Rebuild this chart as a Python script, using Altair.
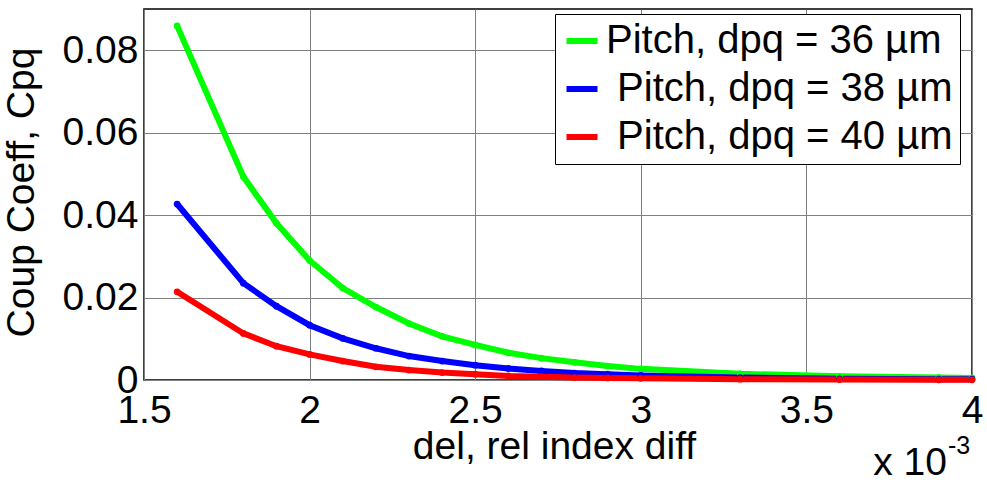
import altair as alt
import pandas as pd

# ---- data (x in units of 1e-3) ----
x_vals = [1.6, 1.8, 1.9, 2.0, 2.1, 2.2, 2.3, 2.4, 2.5, 2.6, 2.7, 2.8, 2.9, 3.0, 3.3, 3.6, 3.9, 4.0]
green_vals = [0.0859, 0.0493, 0.0380, 0.0290, 0.0223, 0.0177, 0.0137, 0.0106, 0.0085, 0.0066,
              0.0053, 0.0043, 0.0034, 0.0027, 0.0015, 0.0009, 0.0006, 0.0005]
blue_vals = [0.0427, 0.0235, 0.0179, 0.0133, 0.0101, 0.0077, 0.0058, 0.0046, 0.0036, 0.0028,
             0.0022, 0.0017, 0.0014, 0.0011, 0.0006, 0.0003, 0.0002, 0.0002]
red_vals = [0.0214, 0.0113, 0.0082, 0.0062, 0.0046, 0.0032, 0.0024, 0.0018, 0.0014, 0.0010,
            0.0008, 0.0006, 0.0005, 0.0004, 0.0002, 0.0001, 0.00005, 0.00004]
series_names = ["Pitch, dpq = 36 \u00b5m",
                "\u200b\u00a0Pitch, dpq = 38 \u00b5m",
                "\u200b\u00a0Pitch, dpq = 40 \u00b5m"]
series_colors = ["#00ff00", "#0000ff", "#ff0000"]
x_ticks = [1.5, 2.0, 2.5, 3.0, 3.5, 4.0]
y_ticks = [0, 0.02, 0.04, 0.06, 0.08]
x_title = "del, rel index diff"
y_title = "Coup Coeff, Cpq"
exp_base = ["x 10"]
exp_power = ["-3"]

rows = []
for name, vals in zip(series_names, [green_vals, blue_vals, red_vals]):
    for xv, yv in zip(x_vals, vals):
        rows.append({"x": xv, "y": yv, "series": name})
df = pd.DataFrame(rows)

FONT = "Liberation Sans"
FS = 39
LFS = 40

color = alt.Color(
    "series:N",
    scale=alt.Scale(domain=series_names, range=series_colors),
    legend=alt.Legend(
        title=None, orient="none", legendX=411, legendY=5,
        symbolType="stroke", symbolSize=961, symbolStrokeWidth=6,
        labelFont=FONT, labelFontSize=LFS, labelLimit=600, labelOffset=4,
        labelColor="black",
        padding=7, rowPadding=8, strokeColor="black", fillColor="white",
    ),
)

xenc = alt.X(
    "x:Q",
    scale=alt.Scale(domain=[1.5, 4.0], nice=False, zero=False),
    axis=alt.Axis(
        values=x_ticks, format="~g", title=x_title, ticks=False, domain=False,
        labelFont=FONT, labelFontSize=FS, labelColor="black", labelPadding=11,
        labelFlush=False, labelOverlap=False,
        titleFont=FONT, titleFontSize=FS, titleFontWeight="normal", titleColor="black",
        titleX=410, titleY=78, titleBaseline="alphabetic", titleAnchor="middle",
        gridColor="#808080", gridOpacity=1, gridWidth=1,
    ),
)
yenc = alt.Y(
    "y:Q",
    scale=alt.Scale(domain=[0, 0.09], nice=False),
    axis=alt.Axis(
        values=y_ticks, title=y_title, ticks=False, domain=False,
        labelExpr="datum.value == 0 ? '0' : format(datum.value, '.2f')",
        labelFont=FONT, labelFontSize=FS, labelColor="black", labelPadding=6,
        labelFlush=False, labelOverlap=False,
        titleFont=FONT, titleFontSize=FS, titleFontWeight="normal", titleColor="black",
        titleX=-111, titleY=183, titleAngle=270, titleBaseline="alphabetic", titleAlign="center",
        gridColor="#808080", gridOpacity=1, gridWidth=1,
    ),
)

lines = alt.Chart(df).mark_line(strokeWidth=6).encode(x=xenc, y=yenc, color=color)
points = alt.Chart(df).mark_circle(size=45, opacity=1).encode(
    x="x:Q", y="y:Q",
    color=alt.Color("series:N", legend=None, scale=alt.Scale(domain=series_names, range=series_colors)),
)

base_txt = alt.Chart(pd.DataFrame({"t": exp_base})).mark_text(
    font=FONT, fontSize=FS, align="right", baseline="alphabetic", color="black"
).encode(text="t:N", x=alt.value(803), y=alt.value(466))
pow_txt = alt.Chart(pd.DataFrame({"t": exp_power})).mark_text(
    font=FONT, fontSize=25, align="left", baseline="alphabetic", color="black"
).encode(text="t:N", x=alt.value(804), y=alt.value(445))

chart = alt.layer(lines, points, base_txt, pow_txt).properties(
    width=828, height=371,
    autosize=alt.AutoSizeParams(type="none"),
    padding={"left": 144, "top": 9, "right": 15, "bottom": 104},
    background="white",
).configure_view(stroke="black", strokeWidth=1.5)

chart.save("out.html", embed_options={"renderer": "svg", "actions": False})
